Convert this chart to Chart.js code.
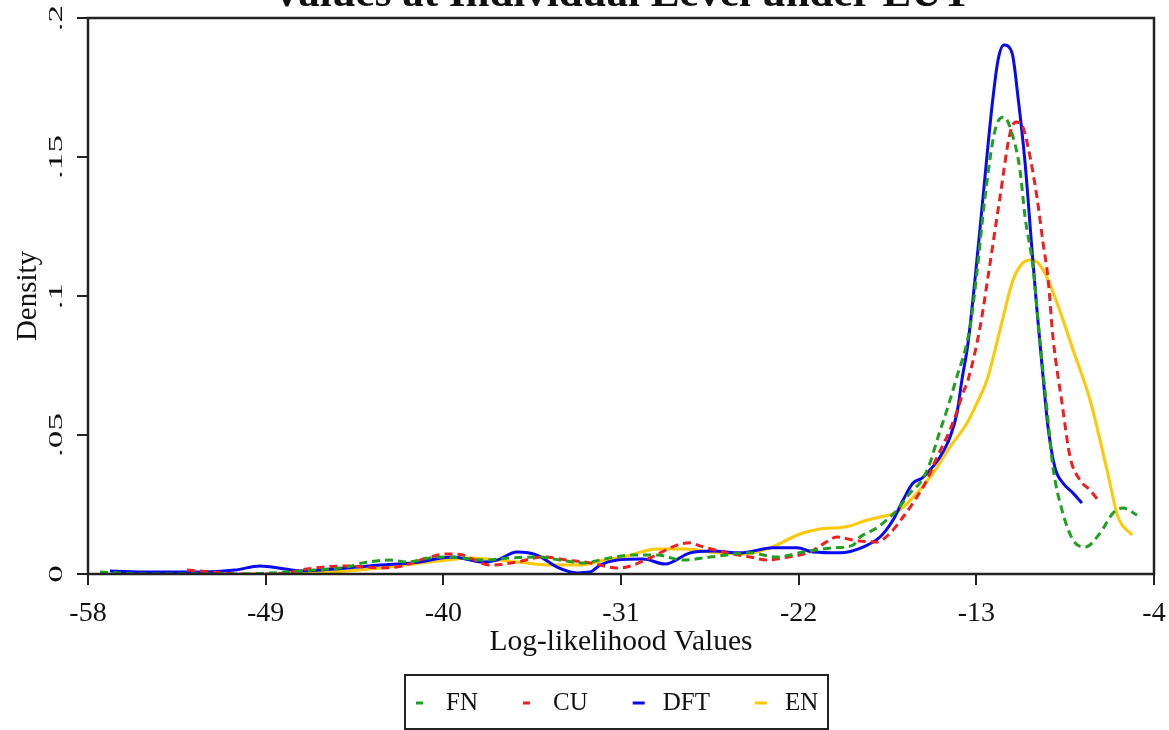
<!DOCTYPE html>
<html>
<head>
<meta charset="utf-8">
<script src="https://cdn.jsdelivr.net/npm/chart.js@4/dist/chart.umd.min.js"></script>
<style>
  html, body { margin: 0; padding: 0; background: #fff; overflow: hidden; }
  #wrap { position: relative; width: 1169px; height: 730px; }
</style>
</head>
<body>
<div id="wrap"><canvas id="c" width="1169" height="730"></canvas></div>
<script>
// ---- text ----
const chartTitle = 'Values at Individual Level under EUT';
const xAxisTitle = 'Log-likelihood Values';
const yAxisTitle = 'Density';
const seriesNames = ['FN', 'CU', 'DFT', 'EN'];

// ---- ticks ----
const xTickValues = [-58, -49, -40, -31, -22, -13, -4];
const yTickValues = [0, 0.05, 0.1, 0.15, 0.2];
const yTickLabels = ['0', '.05', '.1', '.15', '.2'];

// ---- kernel density estimates (log-likelihood, density) ----
const fnX = [-57.39,-55.01,-53.34,-50.30,-47.92,-46.60,-44.88,-44.07,-42.70,-41.84,-40.67,-39.66,-37.99,-36.62,-35.10,-34.09,-32.92,-31.56,-30.39,-29.18,-27.86,-26.49,-24.46,-23.10,-21.78,-20.26,-19.25,-18.89,-18.23,-17.73,-17.02,-16.36,-15.75,-15.35,-14.94,-14.49,-14.08,-13.32,-12.97,-12.56,-12.05,-11.60,-11.14,-10.79,-10.53,-10.13,-9.77,-9.42,-9.12,-8.66,-8.10,-7.49,-6.73,-6.08,-5.57,-4.86];
const fnY = [0.0007,0.0,0.0,0.0,0.0007,0.0014,0.0025,0.0040,0.0050,0.0043,0.0058,0.0061,0.0050,0.0058,0.0061,0.0050,0.0040,0.0058,0.0068,0.0068,0.0050,0.0061,0.0076,0.0061,0.0079,0.0094,0.0104,0.0133,0.0158,0.0183,0.0230,0.0291,0.0338,0.0399,0.0493,0.0590,0.0687,0.0888,0.1083,0.1356,0.1597,0.1644,0.1572,0.1453,0.1284,0.1104,0.0831,0.0590,0.0385,0.0230,0.0122,0.0097,0.0147,0.0219,0.0237,0.0212];

const cuX = [-52.98,-51.67,-50.30,-49.13,-47.92,-46.91,-44.88,-43.21,-42.35,-40.67,-39.81,-39.00,-38.65,-37.64,-36.27,-34.95,-33.74,-32.57,-31.20,-30.70,-29.53,-28.16,-27.50,-27.00,-25.63,-24.46,-23.60,-22.79,-21.43,-20.67,-20.06,-19.25,-18.03,-17.37,-16.71,-16.11,-15.50,-14.99,-14.49,-14.08,-13.68,-13.42,-12.81,-12.41,-11.80,-11.29,-10.99,-10.69,-10.38,-9.93,-9.62,-9.37,-9.12,-8.66,-8.25,-7.75,-7.24,-6.84];
const cuY = [0.0014,0.0007,0.0,0.0,0.0004,0.0018,0.0029,0.0022,0.0025,0.0061,0.0072,0.0068,0.0058,0.0032,0.0043,0.0061,0.0050,0.0040,0.0022,0.0025,0.0058,0.0104,0.0112,0.0101,0.0076,0.0061,0.0050,0.0058,0.0079,0.0112,0.0133,0.0122,0.0115,0.0147,0.0205,0.0266,0.0338,0.0421,0.0493,0.0565,0.0651,0.0698,0.0888,0.1068,0.1356,0.1586,0.1626,0.1615,0.1536,0.1356,0.1191,0.1065,0.0853,0.0615,0.0421,0.0338,0.0302,0.0266];

const dftX = [-56.89,-54.86,-52.33,-50.55,-49.29,-48.02,-47.26,-44.88,-43.21,-41.54,-39.51,-37.99,-37.28,-36.27,-35.25,-34.24,-33.23,-32.57,-32.06,-31.20,-29.89,-28.77,-27.50,-26.34,-24.97,-23.30,-22.08,-21.27,-19.91,-18.74,-17.88,-17.22,-16.71,-16.21,-15.75,-15.35,-14.84,-14.33,-13.98,-13.73,-13.42,-13.07,-12.66,-12.21,-11.90,-11.60,-11.19,-10.89,-10.53,-10.18,-9.93,-9.62,-9.37,-9.01,-8.61,-8.10,-7.65];
const dftY = [0.0011,0.0007,0.0007,0.0014,0.0029,0.0018,0.0011,0.0022,0.0032,0.0040,0.0061,0.0043,0.0050,0.0079,0.0068,0.0025,0.0004,0.0007,0.0032,0.0050,0.0054,0.0036,0.0076,0.0083,0.0076,0.0094,0.0094,0.0079,0.0076,0.0097,0.0133,0.0194,0.0266,0.0327,0.0345,0.0374,0.0421,0.0493,0.0579,0.0698,0.0831,0.1058,0.1356,0.1680,0.1849,0.1903,0.1874,0.1716,0.1478,0.1165,0.0950,0.0709,0.0529,0.0381,0.0327,0.0291,0.0255];

const enX = [-47.92,-44.88,-43.21,-41.54,-39.81,-38.65,-36.27,-34.60,-33.08,-32.06,-30.70,-29.18,-27.76,-26.14,-24.72,-23.45,-21.93,-20.92,-19.65,-18.54,-17.88,-17.02,-16.00,-15.19,-14.33,-13.47,-12.97,-12.46,-11.80,-11.14,-10.64,-10.18,-9.62,-8.91,-8.10,-7.24,-6.38,-5.82,-5.11];
const enY = [0.0004,0.0011,0.0022,0.0036,0.0050,0.0058,0.0043,0.0032,0.0032,0.0047,0.0065,0.0090,0.0090,0.0076,0.0072,0.0094,0.0144,0.0162,0.0169,0.0194,0.0205,0.0223,0.0291,0.0363,0.0457,0.0543,0.0615,0.0698,0.0878,0.1058,0.1119,0.1130,0.1094,0.0975,0.0806,0.0626,0.0374,0.0205,0.0140];

// ---- styling ----
const serif = "'Liberation Serif', 'Times New Roman', serif";
const ink = '#111';
const frameColor = '#222';

const pairs = (xs, ys) => xs.map((x, i) => ({ x, y: ys[i] }));

function curve(label, xs, ys, color, dash) {
  return {
    label,
    data: pairs(xs, ys),
    borderColor: color,
    backgroundColor: color,
    borderWidth: 3,
    borderDash: dash,
    pointRadius: 0,
    fill: false,
    cubicInterpolationMode: 'monotone',
  };
}

const datasets = [
  curve(seriesNames[0], fnX, fnY, '#1fa01f', [8, 5]),
  curve(seriesNames[1], cuX, cuY, '#f01e1e', [8, 5]),
  curve(seriesNames[2], dftX, dftY, '#0a0af0', []),
  curve(seriesNames[3], enX, enY, '#ffc800', []),
];

// Frame, title, rotated y tick labels and the boxed legend
const decor = {
  id: 'decor',
  afterDatasetsDraw(chart) {
    const { ctx, chartArea: a } = chart;
    ctx.save();
    ctx.strokeStyle = frameColor;
    ctx.lineWidth = 2.5;
    ctx.strokeRect(a.left, a.top, a.right - a.left, a.bottom - a.top);
    ctx.restore();
  },
  afterDraw(chart) {
    const { ctx, chartArea: a } = chart;
    const yScale = chart.scales.y;
    ctx.save();
    ctx.fillStyle = ink;

    // title (runs off the top edge)
    ctx.font = 'bold 43px ' + serif;
    ctx.textAlign = 'center';
    ctx.textBaseline = 'alphabetic';
    ctx.fillText(chartTitle, (a.left + a.right) / 2, 6);

    // y tick labels, reading bottom to top, drawn tall and narrow
    ctx.font = '26px ' + serif;
    yTickValues.forEach((v, i) => {
      ctx.save();
      ctx.translate(a.left - 26, yScale.getPixelForValue(v));
      ctx.rotate(-Math.PI / 2);
      ctx.scale(1.35, 0.76);
      ctx.fillText(yTickLabels[i], 0, 0);
      ctx.restore();
    });

    // legend
    const box = { x: 405, y: 675, w: 423, h: 54 };
    ctx.strokeStyle = frameColor;
    ctx.lineWidth = 2;
    ctx.strokeRect(box.x, box.y, box.w, box.h);
    ctx.font = '25px ' + serif;
    ctx.textAlign = 'left';
    ctx.textBaseline = 'middle';
    const midY = box.y + box.h / 2 + 1;
    let x = box.x + 11;
    chart.data.datasets.forEach(ds => {
      ctx.save();
      ctx.strokeStyle = ds.borderColor;
      ctx.lineWidth = 3;
      ctx.setLineDash(ds.borderDash && ds.borderDash.length ? [7, 20] : []);
      ctx.beginPath();
      ctx.moveTo(x, midY);
      ctx.lineTo(x + 12, midY);
      ctx.stroke();
      ctx.restore();
      ctx.fillStyle = ink;
      ctx.fillText(ds.label, x + 30, midY);
      x += 30 + ctx.measureText(ds.label).width + 45;
    });
    ctx.restore();
  }
};

new Chart(document.getElementById('c'), {
  type: 'line',
  data: { datasets },
  plugins: [decor],
  options: {
    responsive: false,
    devicePixelRatio: 1,
    animation: false,
    layout: { padding: { left: 0, right: 15, top: 18, bottom: 70 } },
    plugins: {
      legend: { display: false },
      title: { display: false },
      tooltip: { enabled: false },
    },
    scales: {
      x: {
        type: 'linear',
        min: -58,
        max: -4,
        afterBuildTicks: s => { s.ticks = xTickValues.map(v => ({ value: v })); },
        afterFit: s => { s.height = 86; s.paddingLeft = 0; s.paddingRight = 0; },
        ticks: {
          font: { family: serif, size: 28 },
          color: ink,
          padding: 12,
          maxRotation: 0,
          autoSkip: false,
          callback: v => String(v),
        },
        grid: { drawOnChartArea: false, drawTicks: true, tickLength: 11, color: frameColor, lineWidth: 2 },
        border: { display: false },
        title: { display: true, text: xAxisTitle, color: ink, font: { family: serif, size: 29.5 }, padding: 0 },
      },
      y: {
        type: 'linear',
        min: 0,
        max: 0.2,
        afterBuildTicks: s => { s.ticks = yTickValues.map(v => ({ value: v })); },
        afterFit: s => { s.width = 88; s.paddingTop = 0; s.paddingBottom = 0; },
        ticks: { display: false },
        grid: { drawOnChartArea: false, drawTicks: true, tickLength: 11, color: frameColor, lineWidth: 2 },
        border: { display: false },
        title: { display: true, text: yAxisTitle, color: ink, font: { family: serif, size: 29 }, padding: { top: 11, bottom: 0 } },
      },
    },
  },
});
</script>
</body>
</html>
